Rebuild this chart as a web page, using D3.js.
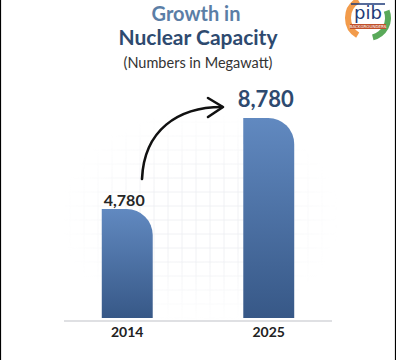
<!DOCTYPE html>
<html>
<head>
<meta charset="utf-8">
<script src="https://cdn.jsdelivr.net/npm/d3@7"></script>
<style>
  html, body { margin: 0; padding: 0; background: #fff; }
  svg { display: block; }
</style>
</head>
<body>
<svg id="chart"></svg>
<script>
// data
const years = ["2014", "2025"];
const capacity = [4780, 8780];
const valueLabels = ["4,780", "8,780"];

const W = 396, H = 360;
const svg = d3.select("#chart").attr("width", W).attr("height", H);

// scales
const x = d3.scaleBand()
  .domain(years)
  .range([64, 332])
  .paddingInner(0.64)
  .paddingOuter(0.267);

const y = d3.scaleLinear()
  .domain([0, d3.max(capacity)])
  .range([318, 118]);

const defs = svg.append("defs");
const grad = defs.append("linearGradient")
  .attr("id", "barGrad")
  .attr("x1", 0).attr("y1", 0).attr("x2", 0).attr("y2", 1);
grad.append("stop").attr("offset", "0%").attr("stop-color", "#6189c0");
grad.append("stop").attr("offset", "100%").attr("stop-color", "#375887");

// faint background grid
const gridFade = defs.append("radialGradient").attr("id", "gridFade");
gridFade.append("stop").attr("offset", "40%").attr("stop-color", "#fff").attr("stop-opacity", 1);
gridFade.append("stop").attr("offset", "100%").attr("stop-color", "#fff").attr("stop-opacity", 0);
defs.append("mask").attr("id", "gridMask")
  .append("rect").attr("x", 60).attr("y", 110).attr("width", 280).attr("height", 215)
  .attr("fill", "url(#gridFade)");

const grid = svg.append("g").attr("mask", "url(#gridMask)")
  .attr("stroke", "#eceef1").attr("stroke-width", 0.8);
d3.range(70, 340, 14).forEach(gx => {
  grid.append("line").attr("x1", gx).attr("x2", gx).attr("y1", 115).attr("y2", 320);
});
d3.range(122, 320, 14).forEach(gy => {
  grid.append("line").attr("x1", 64).attr("x2", 335).attr("y1", gy).attr("y2", gy);
});

// bars with rounded top-right corner
const r = 26;
function barPath(d, i) {
  const x0 = x(years[i]), x1 = x0 + x.bandwidth();
  const top = y(d), bot = y(0);
  return `M${x0},${bot} L${x0},${top} L${x1 - r},${top} A${r},${r} 0 0 1 ${x1},${top + r} L${x1},${bot} Z`;
}
svg.append("g").selectAll("path")
  .data(capacity)
  .join("path")
  .attr("d", barPath)
  .attr("fill", "url(#barGrad)");

// baseline
svg.append("line")
  .attr("x1", 64).attr("x2", 332)
  .attr("y1", 321).attr("y2", 321)
  .attr("stroke", "#d4d6da").attr("stroke-width", 1.5);

// year labels
svg.append("g").selectAll("text")
  .data(years)
  .join("text")
  .attr("x", d => x(d) + x.bandwidth() / 2)
  .attr("y", 337)
  .attr("text-anchor", "middle")
  .attr("font-family", "Lato, sans-serif")
  .attr("font-weight", 700)
  .attr("font-size", 14)
  .attr("fill", "#222")
  .text(d => d);

// value labels
svg.append("g").selectAll("text")
  .data(capacity)
  .join("text")
  .attr("x", (d, i) => x(years[i]) + x.bandwidth() / 2 - 3)
  .attr("y", d => y(d) - (d > 6000 ? 11 : 3))
  .attr("text-anchor", "middle")
  .attr("font-family", "Lato, sans-serif")
  .attr("font-weight", 700)
  .attr("font-size", (d, i) => i ? 22 : 16)
  .attr("fill", (d, i) => i ? "#2e4a6f" : "#262626")
  .text((d, i) => valueLabels[i]);

// curved arrow
svg.append("path")
  .attr("d", "M142,179 C144,130 178,107 222,107")
  .attr("fill", "none").attr("stroke", "#111").attr("stroke-width", 2.6)
  .attr("stroke-linecap", "round");
svg.append("path")
  .attr("d", "M208,98 L223,107 L208,117")
  .attr("fill", "none").attr("stroke", "#111").attr("stroke-width", 2.6)
  .attr("stroke-linecap", "round").attr("stroke-linejoin", "round");

// titles
svg.append("text")
  .attr("x", 196).attr("y", 21)
  .attr("text-anchor", "middle")
  .attr("font-family", "Lato, sans-serif").attr("font-weight", 700)
  .attr("font-size", 20).attr("fill", "#5b7ea6")
  .text("Growth in");
svg.append("text")
  .attr("x", 198).attr("y", 45)
  .attr("text-anchor", "middle")
  .attr("font-family", "Lato, sans-serif").attr("font-weight", 700)
  .attr("font-size", 21).attr("fill", "#2e4a6f")
  .text("Nuclear Capacity");
svg.append("text")
  .attr("x", 198).attr("y", 68)
  .attr("text-anchor", "middle")
  .attr("font-family", "Lato, sans-serif")
  .attr("font-size", 14.5).attr("fill", "#333")
  .text("(Numbers in Megawatt)");

// logo (top right)
const logo = svg.append("g").attr("transform", "translate(368,18)");
const arc = d3.arc().innerRadius(17).outerRadius(23);
logo.append("path")
  .attr("d", arc({ startAngle: -2.6, endAngle: -0.5 }))
  .attr("fill", "#f08a2c").attr("opacity", 0.85);
logo.append("path")
  .attr("d", arc({ startAngle: 1.2, endAngle: 2.9 }))
  .attr("fill", "#3c9a3c").attr("opacity", 0.85);
logo.append("line")
  .attr("x1", -17).attr("x2", 17).attr("y1", -14).attr("y2", -14)
  .attr("stroke", "#1e3a78").attr("stroke-width", 1.5);
logo.append("text")
  .attr("x", 0).attr("y", 1)
  .attr("text-anchor", "middle")
  .attr("font-family", "DejaVu Sans, sans-serif")
  .attr("font-size", 18).attr("fill", "#1e3a78")
  .text("pib");
logo.append("rect")
  .attr("x", -18).attr("y", 6).attr("width", 36).attr("height", 5)
  .attr("fill", "#c0502a");
logo.append("text")
  .attr("x", 0).attr("y", 10.2)
  .attr("text-anchor", "middle")
  .attr("font-family", "DejaVu Sans, sans-serif")
  .attr("font-size", 4).attr("fill", "#fff")
  .text("BACKGROUNDERS");

// side borders
svg.append("line").attr("x1", 0.5).attr("x2", 0.5).attr("y1", 0).attr("y2", H)
  .attr("stroke", "#000").attr("stroke-width", 1.2);
svg.append("line").attr("x1", 395.5).attr("x2", 395.5).attr("y1", 0).attr("y2", H)
  .attr("stroke", "#000").attr("stroke-width", 1.2);
</script>
</body>
</html>
